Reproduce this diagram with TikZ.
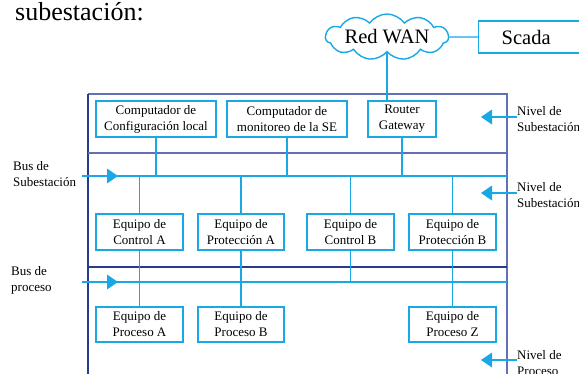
\documentclass[tikz,border=0pt]{standalone}
\usepackage{fontspec}
\setmainfont{Liberation Serif}
\usetikzlibrary{shapes.symbols}
\definecolor{netcyan}{RGB}{24,168,230}
\definecolor{frameslate}{RGB}{98,112,182}
\definecolor{framenavy}{RGB}{40,58,140}
\begin{document}
\begin{tikzpicture}[x=1pt,y=-1pt,
  every node/.style={font=\fontsize{13}{16}\selectfont, text=black},
  device/.style={draw=netcyan, line width=1.4pt, align=center, inner sep=0pt, minimum height=36pt},
  link/.style={draw=netcyan, line width=1.4pt},
  marker/.style={fill=netcyan},
  sidelabel/.style={anchor=west, align=left, inner sep=0pt},
  bigtext/.style={font=\fontsize{20.5}{24}\selectfont},
  slateline/.style={draw=frameslate, line width=1.5pt},
  navyline/.style={draw=framenavy, line width=1.5pt}
]
\useasboundingbox (0,0) rectangle (579,373);
\clip (0,0) rectangle (579,373);

% heading
\node[anchor=base west, inner sep=0pt, font=\fontsize{26}{30}\selectfont] (heading) at (15,20) {subestación:};

% level frame
\draw[slateline] (88,94) -- (507,94) -- (507,380);
\draw[navyline] (88,94) -- (88,380);
\draw[slateline] (88,153) -- (507,153);
\draw[navyline] (88,267) -- (507,267);

% bus end points
\coordinate (busS) at (82,176);
\coordinate (busSend) at (507,176);
\coordinate (busP) at (82,282);
\coordinate (busPend) at (507,282);

% WAN and SCADA
\node[cloud, draw=netcyan, line width=1.4pt, cloud puffs=11, cloud puff arc=110,
  cloud ignores aspect, minimum width=123pt, minimum height=46pt, inner sep=0pt, bigtext] (wan) at (387,37) {Red WAN};
\node[draw=netcyan, line width=1.4pt, minimum height=32pt, anchor=west, text width=110pt,
  inner xsep=23pt, align=left, bigtext] (scada) at (478,37) {Scada};

% station level devices
\node[device, minimum width=120pt] (cfg) at (156,119) {Computador de\\Configuración local};
\node[device, minimum width=120pt] (mon) at (287,119) {Computador de\\monitoreo de la SE};
\node[device, minimum width=68pt] (router) at (402,119) {Router\\Gateway};

% bay level devices
\node[device, minimum width=87pt] (ctrlA) at (139.5,232) {Equipo de\\Control A};
\node[device, minimum width=86pt] (protA) at (241,232) {Equipo de\\Protección A};
\node[device, minimum width=87pt] (ctrlB) at (350.5,232) {Equipo de\\Control B};
\node[device, minimum width=87pt] (protB) at (452.5,232) {Equipo de\\Protección B};

% process level devices
\node[device, minimum width=87pt, minimum height=35pt] (procA) at (139.5,324.5) {Equipo de\\Proceso A};
\node[device, minimum width=86pt, minimum height=35pt] (procB) at (241,324.5) {Equipo de\\Proceso B};
\node[device, minimum width=87pt, minimum height=35pt] (procZ) at (452.5,324.5) {Equipo de\\Proceso Z};

% WAN links
\draw[link] (wan.east) -- (scada.west);
\draw[link] (wan.south) -- (wan.south |- router.north);

% station bus
\draw[link] (busS) -- (busSend);
\draw[link] (cfg.south) -- (cfg.south |- busS);
\draw[link] (mon.south) -- (mon.south |- busS);
\draw[link] (router.south) -- (router.south |- busS);
\draw[link] (ctrlA.north |- busS) -- (ctrlA.north);
\draw[link] (protA.north |- busS) -- (protA.north);
\draw[link] (ctrlB.north |- busS) -- (ctrlB.north);
\draw[link] (protB.north |- busS) -- (protB.north);

% process bus
\draw[link] (busP) -- (busPend);
\draw[link] (ctrlA.south) -- (procA.north);
\draw[link] (protA.south) -- (procB.north);
\draw[link] (ctrlB.south) -- (ctrlB.south |- busP);
\draw[link] (protB.south) -- (procZ.north);

% bus labels and markers
\node[sidelabel] (lblS) at (13,174) {Bus de\\Subestación};
\node[sidelabel] (lblP) at (11,280.5) {Bus de\\proceso};
\fill[marker] (107,168.5) -- (118,176) -- (107,183.5) -- cycle;
\fill[marker] (107,274.5) -- (118,282) -- (107,289.5) -- cycle;

% level labels and markers
\node[sidelabel] (lvl1) at (517,119.5) {Nivel de\\Subestación};
\node[sidelabel] (lvl2) at (517,195) {Nivel de\\Subestación};
\node[sidelabel] (lvl3) at (517,363) {Nivel de\\Proceso};
\coordinate (m1) at (492,117);
\coordinate (m2) at (492,193);
\coordinate (m3) at (492,360);
\foreach \m in {m1,m2,m3}{
  \fill[marker] ([shift={(0,-7.5)}]\m) -- ([shift={(-11,0)}]\m) -- ([shift={(0,7.5)}]\m) -- cycle;
}
\draw[link] (m1) -- (m1 -| lvl1.west);
\draw[link] (m2) -- (m2 -| lvl2.west);
\draw[link] (m3) -- (m3 -| lvl3.west);
\end{tikzpicture}
\end{document}
